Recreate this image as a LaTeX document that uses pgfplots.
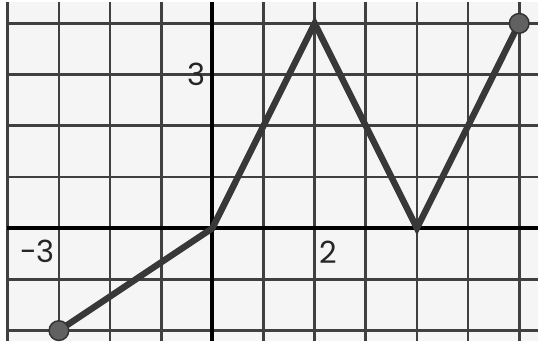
\documentclass[border=0pt]{standalone}
\usepackage{pgfplots}
\pgfplotsset{compat=1.18}
\usepackage{fontspec}
\setmainfont{Poppins}
\begin{document}
\begin{tikzpicture}
\begin{axis}[
  scale only axis,
  width=540pt, height=345pt,
  xmin=-4.02, xmax=6.37, ymin=-2.21, ymax=4.42,
  axis line style={draw=none},
  axis background/.style={fill=black!4},
  tick style={draw=none},
  xtick={-4,-3,...,6}, ytick={-2,-1,...,4},
  xticklabels={}, yticklabels={},
  grid=major,
  grid style={black!75, line width=2.8pt},
  extra x ticks={0}, extra y ticks={0},
  extra x tick labels={}, extra y tick labels={},
  extra tick style={grid style={black, line width=3.8pt}},
  clip=true,
]
\addplot[black!78, line width=6.5pt, line join=miter] coordinates {(-3,-2) (0,0) (2,4) (4,0) (6,4)};
\addplot[only marks, mark=*, mark size=10pt, mark options={fill=black!62, draw=black!80, line width=1.5pt}] coordinates {(-3,-2) (6,4)};
\node[font=\fontsize{31}{34}\selectfont, text=black!85] at (axis cs:-3.42,-0.46) {-3};
\node[font=\fontsize{31}{34}\selectfont, text=black!85] at (axis cs:2.27,-0.48) {2};
\node[font=\fontsize{31}{34}\selectfont, text=black!85] at (axis cs:-0.31,3.0) {3};
\end{axis}
\end{tikzpicture}
\end{document}
